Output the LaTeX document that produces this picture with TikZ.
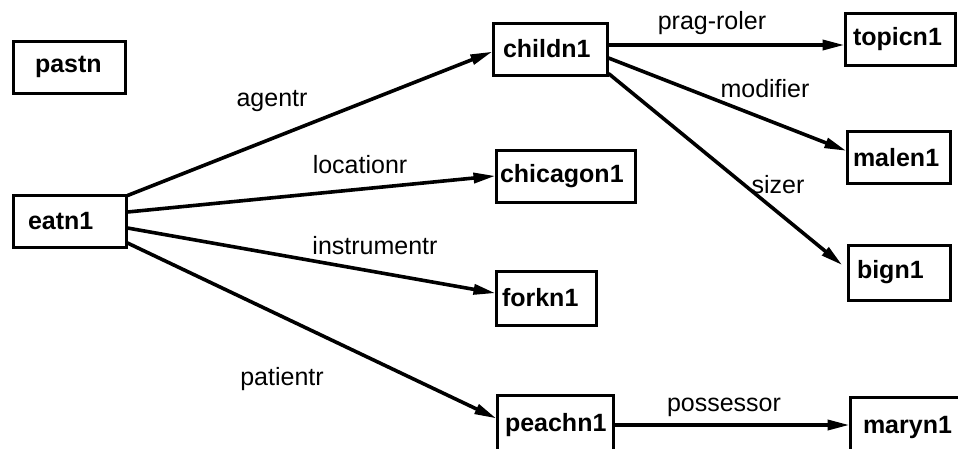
\documentclass[tikz,border=0pt]{standalone}
\usepackage{fontspec}
\setmainfont{Liberation Sans}
\usetikzlibrary{arrows.meta,calc}
\begin{document}
\begin{tikzpicture}[x=1pt,y=-1pt,
  concept/.style={draw, line width=3pt, minimum height=52pt, inner ysep=0pt,
    align=left, font=\fontsize{25}{28}\selectfont\bfseries},
  rel/.style={line width=3.6pt, -{Triangle[length=22pt,width=10pt]}, shorten >=-1pt},
  rlabel/.style={anchor=base, inner sep=0pt, font=\fontsize{25}{28}\selectfont}]
\useasboundingbox (0,0) rectangle (958,448);
\clip (0,0) rectangle (958,448);

% concept nodes: inner xsep = left text offset, text width = box width - 2*offset
\node[concept, inner xsep=22pt, text width=68pt]  (pastn)     at (69,67)     {pastn};
\node[concept, inner xsep=15pt, text width=83pt]  (eatn1)     at (69.5,221)  {eatn1};
\node[concept, inner xsep=10pt, text width=94pt]  (childn1)   at (550,49)    {childn1};
\node[concept, inner xsep=4pt,  text width=131pt] (chicagon1) at (565.5,176) {chicagon1};
\node[concept, inner xsep=8pt,  text width=94pt]  (topicn1)   at (900,39)    {topicn1};
\node[concept, inner xsep=6pt,  text width=91pt]  (malen1)    at (898.5,157.5) {malen1};
\node[concept, inner xsep=9pt,  text width=84pt, minimum height=55pt] (bign1) at (899,272.5) {bign1};
\node[concept, inner xsep=6pt,  text width=88pt, minimum height=54pt] (forkn1) at (546,298) {forkn1};
\node[concept, inner xsep=8pt,  text width=100pt, minimum height=60pt] (peachn1) at (555,425) {peachn1};
\node[concept, inner xsep=13pt, text width=100pt, minimum height=60pt] (maryn1)  at (913,427) {maryn1};

% relations
\draw[rel] ($(eatn1.north east)+(0,2)$) -- ($(childn1.west)+(0,3)$);
\draw[rel] ($(eatn1.east)+(0,-9)$) -- (chicagon1.west);
\draw[rel] ($(eatn1.east)+(0,7)$) -- ($(forkn1.west)+(0,-5)$);
\draw[rel] ($(eatn1.east)+(0,22)$) -- ($(peachn1.west)+(0,-7)$);
\draw[rel] ($(childn1.east)+(0,-4)$) -- ($(topicn1.west)+(0,6)$);
\draw[rel] ($(childn1.east)+(0,9)$) -- ($(malen1.west)+(0,-7)$);
\draw[rel] ($(childn1.south east)+(0,-3)$) -- ($(bign1.west)+(-5,-8)$);
\draw[rel] ($(peachn1.east)+(0,0)$) -- ($(maryn1.west)+(0,-2)$);

% relation labels
\node[rlabel] (lagent)  at (272,106) {agentr};
\node[rlabel] (lloc)    at (360,173) {locationr};
\node[rlabel] (linstr)  at (375,254) {instrumentr};
\node[rlabel] (lpat)    at (282,385) {patientr};
\node[rlabel] (lprag)   at (712,29)  {prag-roler};
\node[rlabel] (lmod)    at (765,97)  {modifier};
\node[rlabel] (lsize)   at (778,193) {sizer};
\node[rlabel] (lposs)   at (724,411) {possessor};
\end{tikzpicture}
\end{document}
